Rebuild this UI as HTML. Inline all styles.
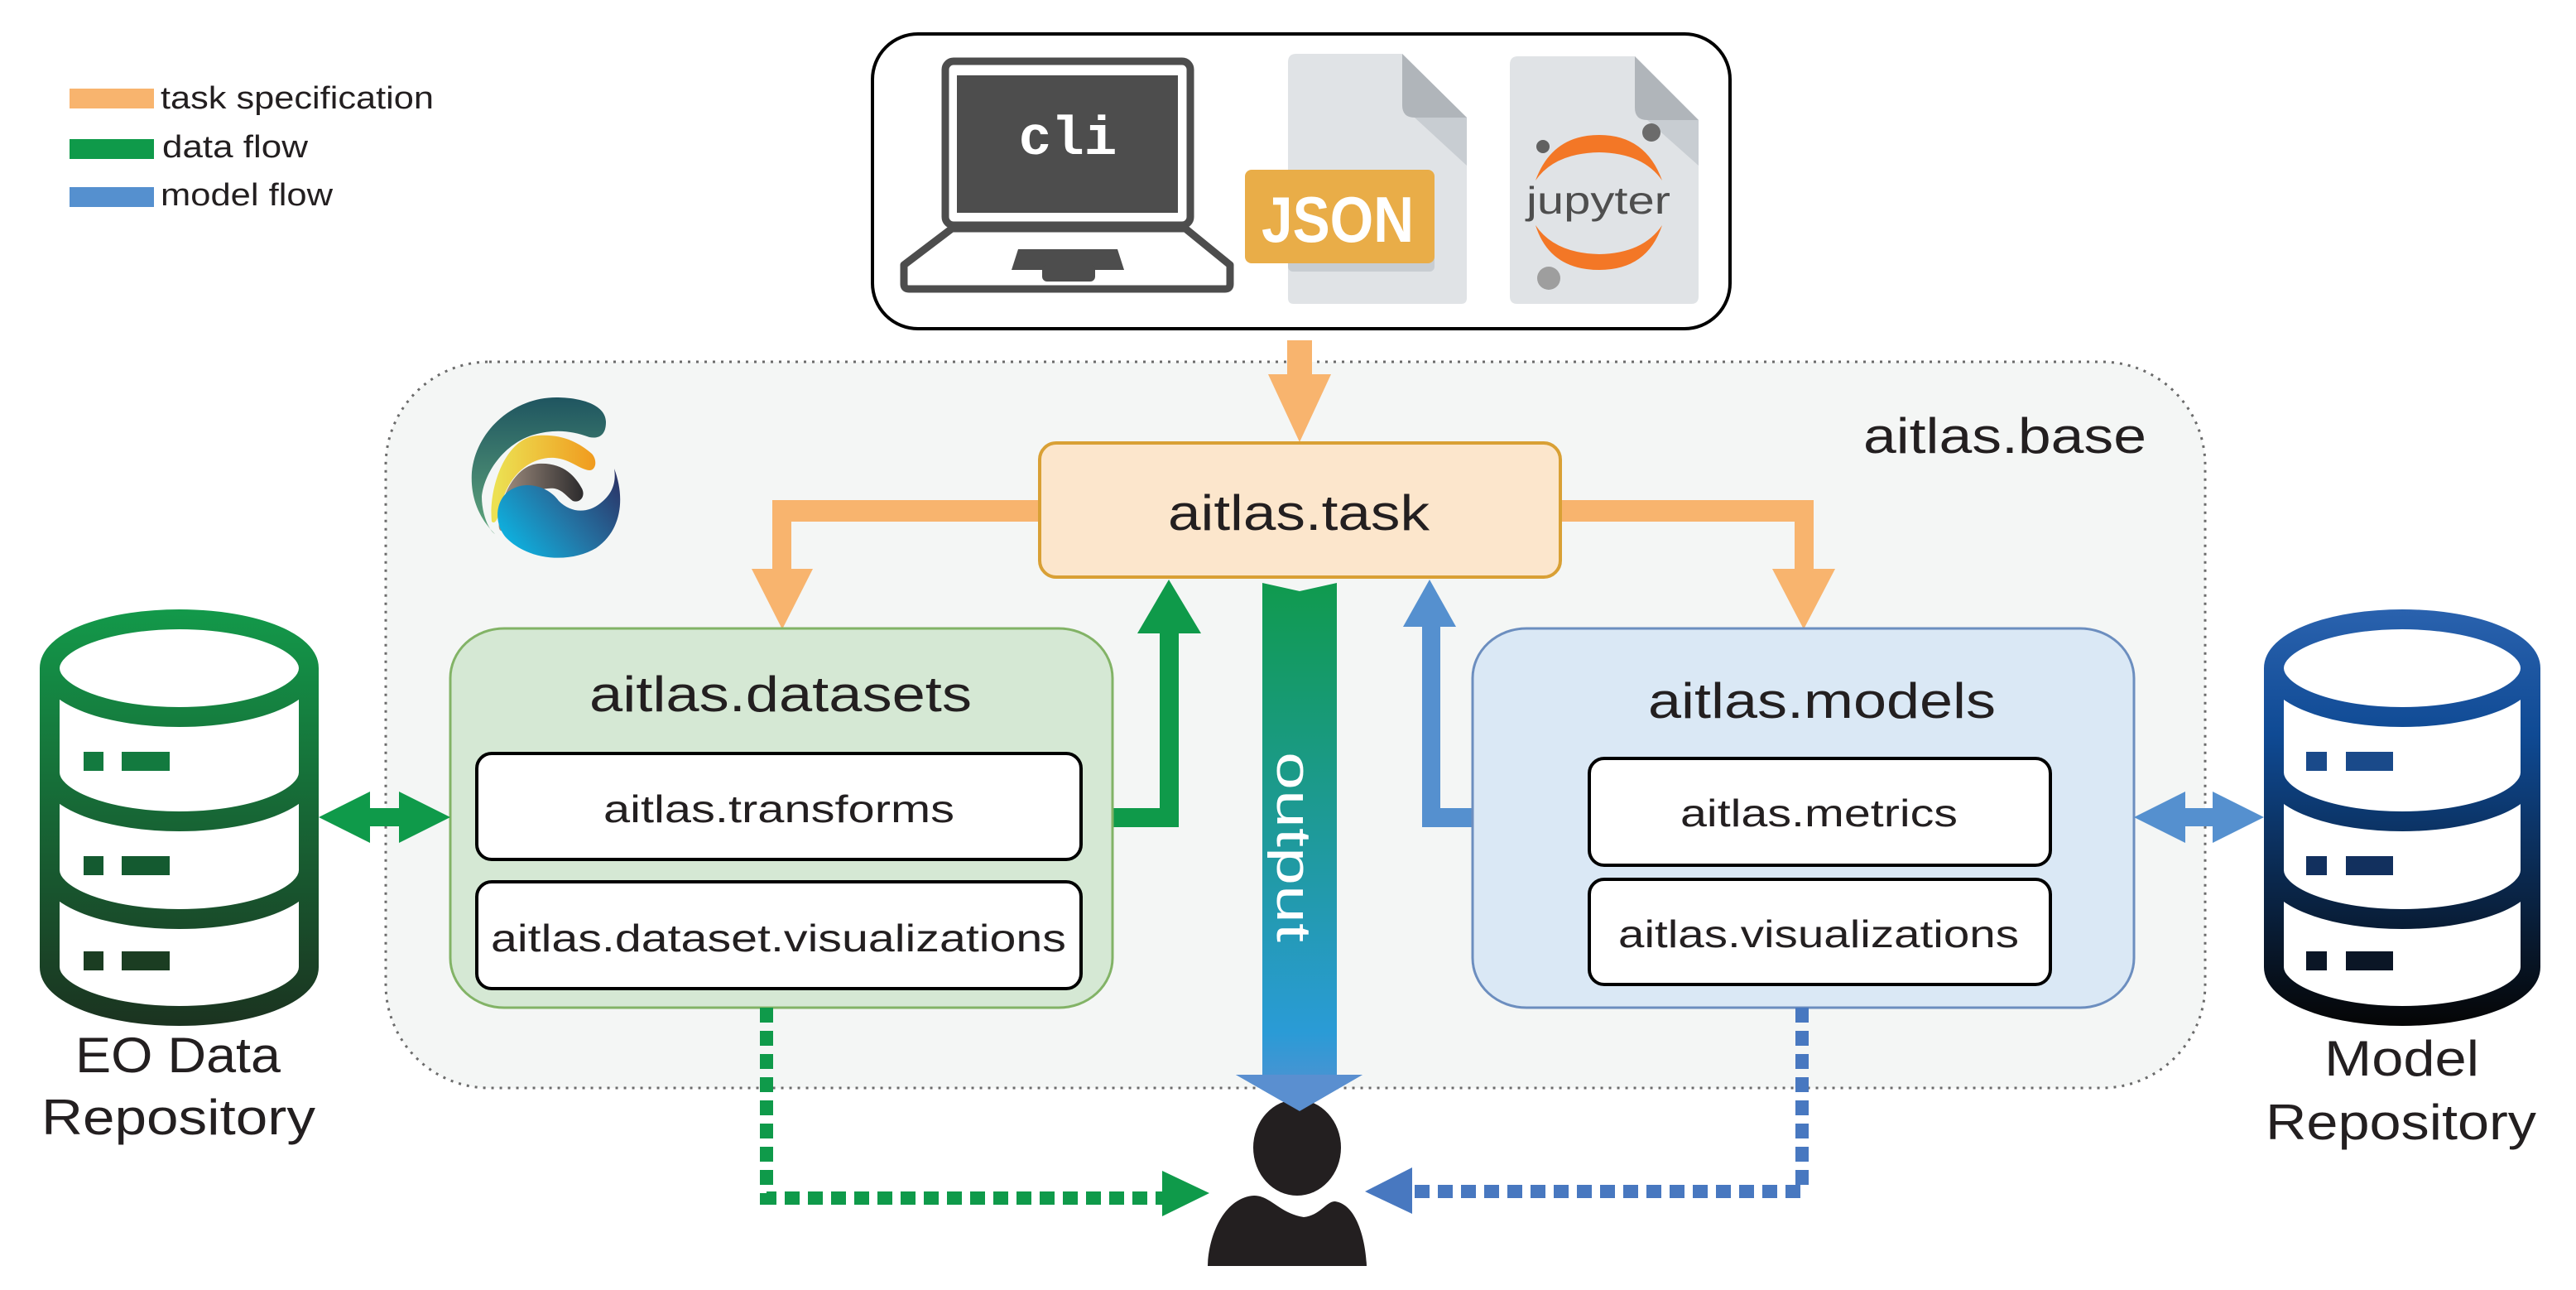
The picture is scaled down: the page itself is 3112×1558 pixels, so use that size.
<!DOCTYPE html>
<html><head><meta charset="utf-8"><style>
html,body{margin:0;padding:0;background:#fff}
svg{display:block}
text{font-family:"Liberation Sans",sans-serif}
</style></head><body>
<svg width="3112" height="1558" viewBox="0 0 3112 1558" xmlns="http://www.w3.org/2000/svg">
<defs>
<linearGradient id="gdb" x1="0" y1="736" x2="0" y2="1239" gradientUnits="userSpaceOnUse"><stop offset="0" stop-color="#13994a"/><stop offset="1" stop-color="#1b3320"/></linearGradient>
<linearGradient id="bdb" x1="0" y1="736" x2="0" y2="1239" gradientUnits="userSpaceOnUse"><stop offset="0" stop-color="#2a62ae"/><stop offset="0.3" stop-color="#0f4a94"/><stop offset="1" stop-color="#050505"/></linearGradient>
<linearGradient id="outg" x1="0" y1="704" x2="0" y2="1342" gradientUnits="userSpaceOnUse"><stop offset="0" stop-color="#109a4e"/><stop offset="0.5" stop-color="#1f9a9e"/><stop offset="0.85" stop-color="#2a9bd6"/><stop offset="1" stop-color="#5a8fd0"/></linearGradient>
<linearGradient id="lteal" x1="0" y1="480" x2="0" y2="645" gradientUnits="userSpaceOnUse"><stop offset="0" stop-color="#1f5560"/><stop offset="1" stop-color="#5fa67c"/></linearGradient>
<linearGradient id="lyel" x1="600" y1="0" x2="720" y2="0" gradientUnits="userSpaceOnUse"><stop offset="0" stop-color="#ece052"/><stop offset="1" stop-color="#f09a1e"/></linearGradient>
<linearGradient id="ldark" x1="610" y1="0" x2="705" y2="0" gradientUnits="userSpaceOnUse"><stop offset="0" stop-color="#9b8a7c"/><stop offset="1" stop-color="#2c2a2c"/></linearGradient>
<linearGradient id="lblue" x1="620" y1="675" x2="745" y2="575" gradientUnits="userSpaceOnUse"><stop offset="0" stop-color="#0cb6e4"/><stop offset="0.5" stop-color="#2474a4"/><stop offset="1" stop-color="#2b3568"/></linearGradient>
</defs>

<!-- legend -->
<rect x="84" y="107" width="102" height="24" fill="#f8b46e"/>
<rect x="84" y="168" width="102" height="24" fill="#0f9a4a"/>
<rect x="84" y="226" width="102" height="24" fill="#5590cf"/>
<text x="194" y="131" font-size="38" fill="#231f20" textLength="330" lengthAdjust="spacingAndGlyphs">task specification</text>
<text x="196" y="190" font-size="38" fill="#231f20" textLength="176" lengthAdjust="spacingAndGlyphs">data flow</text>
<text x="194" y="248" font-size="38" fill="#231f20" textLength="208" lengthAdjust="spacingAndGlyphs">model flow</text>

<!-- top box -->
<rect x="1054" y="41" width="1036" height="356" rx="55" ry="55" fill="#fff" stroke="#000" stroke-width="4"/>
<!-- laptop -->
<rect x="1142" y="74" width="296" height="198" rx="10" fill="#fff" stroke="#4d4d4d" stroke-width="9"/>
<rect x="1156" y="91" width="267" height="166" fill="#4d4d4d"/>
<text x="1290" y="186" style="font-family:'Liberation Mono',monospace;font-weight:bold" font-size="66" fill="#fff" text-anchor="middle">cli</text>
<path d="M1150,276 L1432,276 L1486,320 L1486,343 Q1486,349 1480,349 L1098,349 Q1092,349 1092,343 L1092,320 Z" fill="#fff" stroke="#4d4d4d" stroke-width="9" stroke-linejoin="round"/>
<polygon points="1230,301 1350,301 1358,326 1222,326" fill="#4d4d4d"/>
<rect x="1259" y="320" width="64" height="20" rx="6" fill="#4d4d4d"/>
<!-- JSON doc -->
<path d="M1556,75 Q1556,65 1566,65 L1694,65 L1772,142 L1772,360 Q1772,367 1765,367 L1563,367 Q1556,367 1556,360 Z" fill="#e0e3e6"/>
<path d="M1694,65 L1772,142 L1709,142 Q1694,142 1694,127 Z" fill="#b0b5ba"/>
<path d="M1709,142 L1772,142 L1772,200 Z" fill="#c8cdd2"/>
<rect x="1556" y="215" width="177" height="113" rx="6" fill="#c8cdd2"/>
<rect x="1504" y="205" width="229" height="113" rx="8" fill="#e9ad48"/>
<text x="1616" y="292" font-size="78" font-weight="bold" fill="#fff" text-anchor="middle" textLength="184" lengthAdjust="spacingAndGlyphs">JSON</text>
<!-- jupyter doc -->
<path d="M1824,78 Q1824,68 1834,68 L1975,68 L2052,145 L2052,358 Q2052,367 2043,367 L1833,367 Q1824,367 1824,358 Z" fill="#e0e3e6"/>
<path d="M1975,68 L2052,145 L1990,145 Q1975,145 1975,130 Z" fill="#b0b5ba"/>
<path d="M1990,145 L2052,145 L2052,200 Z" fill="#c8cdd2"/>
<path d="M1855,218 Q1875,163 1932,163 Q1988,163 2008,218 Q1985,185 1932,184 Q1878,185 1855,218 Z" fill="#f37726"/>
<path d="M1855,272 Q1878,306 1932,307 Q1985,306 2008,272 Q1990,326 1932,326 Q1872,326 1855,272 Z" fill="#f37726"/>
<circle cx="1864" cy="177" r="8" fill="#616161"/>
<circle cx="1995" cy="160" r="11" fill="#6b6b6b"/>
<circle cx="1871" cy="336" r="14" fill="#9e9e9e"/>
<text x="1844" y="258" font-size="46" fill="#4e4e4e" textLength="174" lengthAdjust="spacingAndGlyphs">jupyter</text>

<!-- base container -->
<rect x="466" y="437" width="2198" height="877" rx="125" ry="125" fill="#f4f6f5" stroke="#6b6b6b" stroke-width="3" stroke-dasharray="3 7"/>
<text x="2251" y="547" font-size="60" fill="#231f20" textLength="342" lengthAdjust="spacingAndGlyphs">aitlas.base</text>

<!-- logo -->
<path d="M672,480 C700,480 732,488 732,510 C732,527 722,530 712,528 C690,520 670,518 645,525 C610,535 585,570 582,600 C582,620 590,640 598,645 C578,625 568,600 570,570 C575,520 620,480 672,480 Z" fill="url(#lteal)"/>
<path d="M650,526 C680,524 700,535 715,548 C722,556 720,568 712,568 C700,567 690,555 670,553 C640,551 615,575 607,605 C603,620 600,635 594,630 C590,590 610,528 650,526 Z" fill="url(#lyel)"/>
<path d="M650,560 C680,558 695,575 703,590 C708,600 700,608 692,605 C685,600 680,592 670,590 C650,588 630,600 620,625 C615,640 600,650 603,630 C605,595 625,562 650,560 Z" fill="url(#ldark)"/>
<path d="M742,566 C755,600 752,640 720,662 C690,680 640,678 612,650 C595,632 598,600 620,590 C640,580 665,590 675,605 C690,620 710,620 725,608 C738,598 745,585 742,566 Z" fill="url(#lblue)"/>

<!-- orange arrows -->
<rect x="1555" y="411" width="30" height="42" fill="#f8b46e"/>
<polygon points="1532,452 1608,452 1570,534" fill="#f8b46e"/>
<path d="M1256,604 L933,604 L933,688 L956,688 L956,630 L1256,630 Z" fill="#f8b46e"/>
<polygon points="908,687 982,687 945,760" fill="#f8b46e"/>
<path d="M1885,604 L2191,604 L2191,688 L2168,688 L2168,630 L1885,630 Z" fill="#f8b46e"/>
<polygon points="2141,687 2217,687 2179,760" fill="#f8b46e"/>

<!-- task box -->
<rect x="1256" y="535" width="629" height="162" rx="20" fill="#fce6cc" stroke="#d9a035" stroke-width="4"/>
<text x="1411" y="640" font-size="60" fill="#231f20" textLength="316" lengthAdjust="spacingAndGlyphs">aitlas.task</text>

<!-- green up arrow -->
<path d="M1344,976 L1401,976 L1401,764 L1424,764 L1424,999 L1344,999 Z" fill="#0f9a4a"/>
<polygon points="1374,765 1451,765 1412,700" fill="#0f9a4a"/>
<!-- blue up arrow -->
<path d="M1779,976 L1740,976 L1740,756 L1718,756 L1718,999 L1779,999 Z" fill="#5590cf"/>
<polygon points="1695,757 1759,757 1727,700" fill="#5590cf"/>

<!-- datasets box -->
<rect x="544" y="759" width="800" height="458" rx="65" ry="60" fill="#d5e8d4" stroke="#82b366" stroke-width="3"/>
<text x="712" y="859" font-size="60" fill="#231f20" textLength="462" lengthAdjust="spacingAndGlyphs">aitlas.datasets</text>
<rect x="576" y="910" width="730" height="128" rx="18" fill="#fff" stroke="#000" stroke-width="4"/>
<text x="729" y="993" font-size="46" fill="#231f20" textLength="424" lengthAdjust="spacingAndGlyphs">aitlas.transforms</text>
<rect x="576" y="1065" width="730" height="129" rx="18" fill="#fff" stroke="#000" stroke-width="4"/>
<text x="593" y="1149" font-size="46" fill="#231f20" textLength="695" lengthAdjust="spacingAndGlyphs">aitlas.dataset.visualizations</text>

<!-- models box -->
<rect x="1779" y="759" width="799" height="458" rx="65" ry="60" fill="#dae8f5" stroke="#6c8ebf" stroke-width="3"/>
<text x="1991" y="867" font-size="60" fill="#231f20" textLength="420" lengthAdjust="spacingAndGlyphs">aitlas.models</text>
<rect x="1920" y="916" width="557" height="129" rx="18" fill="#fff" stroke="#000" stroke-width="4"/>
<text x="2030" y="998" font-size="46" fill="#231f20" textLength="335" lengthAdjust="spacingAndGlyphs">aitlas.metrics</text>
<rect x="1920" y="1062" width="557" height="127" rx="18" fill="#fff" stroke="#000" stroke-width="4"/>
<text x="1955" y="1144" font-size="46" fill="#231f20" textLength="484" lengthAdjust="spacingAndGlyphs">aitlas.visualizations</text>

<!-- double arrows -->
<rect x="440" y="976" width="56" height="22" fill="#0f9a4a"/>
<polygon points="385,987 447,956 447,1018" fill="#0f9a4a"/>
<polygon points="544,987 482,956 482,1018" fill="#0f9a4a"/>
<rect x="2630" y="976" width="56" height="22" fill="#5590cf"/>
<polygon points="2578,987 2640,956 2640,1018" fill="#5590cf"/>
<polygon points="2735,987 2673,956 2673,1018" fill="#5590cf"/>

<!-- output arrow -->
<path d="M1525,704 L1570,714 L1615,704 L1615,1298 L1646,1298 L1570,1342 L1493,1298 L1525,1298 Z" fill="url(#outg)"/>
<text transform="translate(1543,908) rotate(90)" font-size="58" fill="#fff" textLength="230" lengthAdjust="spacingAndGlyphs">output</text>

<!-- person -->
<ellipse cx="1567" cy="1386" rx="53" ry="58" fill="#231f20"/>
<path d="M1459,1529 C1460,1490 1480,1446 1515,1444 C1535,1444 1545,1465 1575,1470 C1595,1468 1603,1450 1613,1451 C1640,1455 1650,1500 1651,1529 Z" fill="#231f20"/>
<polygon points="1493,1298 1646,1298 1570,1342" fill="#5a8fd0"/>

<!-- dotted connectors -->
<path d="M926,1217 L926,1447 L1404,1447" fill="none" stroke="#0f9a4a" stroke-width="16" stroke-dasharray="18 10"/>
<polygon points="1404,1414 1461,1441 1404,1469" fill="#0f9a4a"/>
<path d="M2177,1217 L2177,1439 L1706,1439" fill="none" stroke="#4878c0" stroke-width="16" stroke-dasharray="18 10"/>
<polygon points="1706,1410 1649,1439 1706,1466" fill="#4878c0"/>

<!-- green DB -->
<g fill="none" stroke="url(#gdb)" stroke-width="24">
<ellipse cx="216.5" cy="807" rx="156.5" ry="59"/>
<path d="M60,807 L60,1168 A156.5,59 0 0 0 373,1168 L373,807"/>
<path d="M60,933 A156.5,59 0 0 0 373,933"/>
<path d="M60,1051 A156.5,59 0 0 0 373,1051"/>
</g>
<g fill="#145a30">
<rect x="101" y="908" width="24" height="23" fill="#137a3f"/><rect x="147" y="908" width="58" height="23" fill="#137a3f"/>
<rect x="101" y="1034" width="24" height="23"/><rect x="147" y="1034" width="58" height="23"/>
<rect x="101" y="1149" width="24" height="23" fill="#1b3d22"/><rect x="147" y="1149" width="58" height="23" fill="#1b3d22"/>
</g>
<text x="91" y="1295" font-size="60" fill="#231f20" textLength="248" lengthAdjust="spacingAndGlyphs">EO Data</text>
<text x="50" y="1370" font-size="60" fill="#231f20" textLength="331" lengthAdjust="spacingAndGlyphs">Repository</text>

<!-- blue DB -->
<g fill="none" stroke="url(#bdb)" stroke-width="24">
<ellipse cx="2902" cy="807" rx="155" ry="59"/>
<path d="M2747,807 L2747,1168 A155,59 0 0 0 3057,1168 L3057,807"/>
<path d="M2747,933 A155,59 0 0 0 3057,933"/>
<path d="M2747,1051 A155,59 0 0 0 3057,1051"/>
</g>
<rect x="2786" y="908" width="25" height="23" fill="#1a4a8a"/><rect x="2834" y="908" width="57" height="23" fill="#1a4a8a"/>
<rect x="2786" y="1034" width="25" height="23" fill="#12305e"/><rect x="2834" y="1034" width="57" height="23" fill="#12305e"/>
<rect x="2786" y="1149" width="25" height="23" fill="#0b1626"/><rect x="2834" y="1149" width="57" height="23" fill="#0b1626"/>
<text x="2808" y="1299" font-size="60" fill="#231f20" textLength="187" lengthAdjust="spacingAndGlyphs">Model</text>
<text x="2737" y="1376" font-size="60" fill="#231f20" textLength="327" lengthAdjust="spacingAndGlyphs">Repository</text>
</svg>
</body></html>
